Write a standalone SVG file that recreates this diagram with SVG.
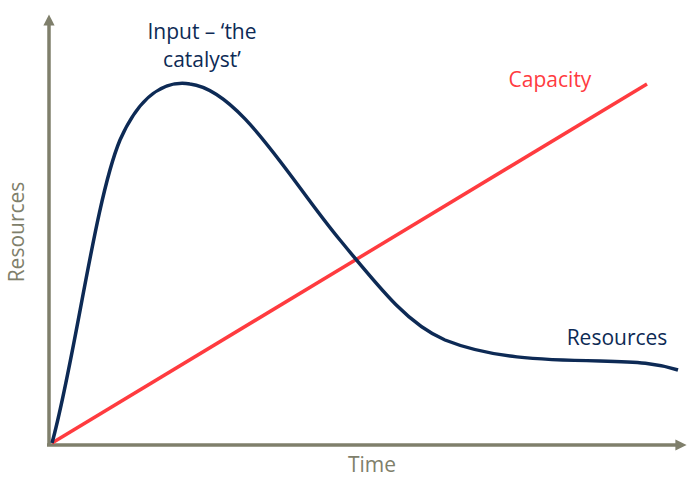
<svg xmlns="http://www.w3.org/2000/svg" width="689" height="477" viewBox="0 0 689 477">
<style>
.t{font-family:"Open Sans","Noto Sans",sans-serif;font-size:21px}
.ax{stroke:#7f7f6b;stroke-width:3.5;fill:none}
</style>
<defs>
<marker id="ah" viewBox="0 0 10 10" refX="5" refY="5" markerWidth="3.2" markerHeight="3.2" orient="auto-start-reverse" markerUnits="strokeWidth">
<path d="M0,0 L10,5 L0,10 z" fill="#7f7f6b"/>
</marker>
</defs>
<rect width="689" height="477" fill="#fff"/>
<g id="axes">
<path class="ax" d="M49,446 L49,20" marker-end="url(#ah)"/>
<path class="ax" d="M47,445 L681,445" marker-end="url(#ah)"/>
</g>
<g id="connectors">
<path d="M52,443 L647,84" stroke="#ff3b3f" stroke-width="3.5" fill="none"/>
<path d="M52,443 C75,360 95,200 120,140 C140,95 165,80 190,84 C240,90 290,180 340,240 C385,295 410,325 445,340 C490,358 540,360 600,361 C640,362 655,363 678,370" stroke="#0d2a55" stroke-width="3.5" fill="none"/>
</g>
<g id="labels">
<text class="t" x="202" y="39" text-anchor="middle" fill="#0d2a55">Input – ‘the</text>
<text class="t" x="202" y="67" text-anchor="middle" fill="#0d2a55">catalyst’</text>
<text class="t" x="550" y="87" text-anchor="middle" fill="#ff3b3f">Capacity</text>
<text class="t" x="617" y="345" text-anchor="middle" fill="#0d2a55">Resources</text>
<text class="t" x="372" y="472" text-anchor="middle" fill="#7f7f6b">Time</text>
<text class="t" x="0" y="0" text-anchor="middle" fill="#7f7f6b" transform="translate(24,232) rotate(-90)">Resources</text>
</g>
</svg>
